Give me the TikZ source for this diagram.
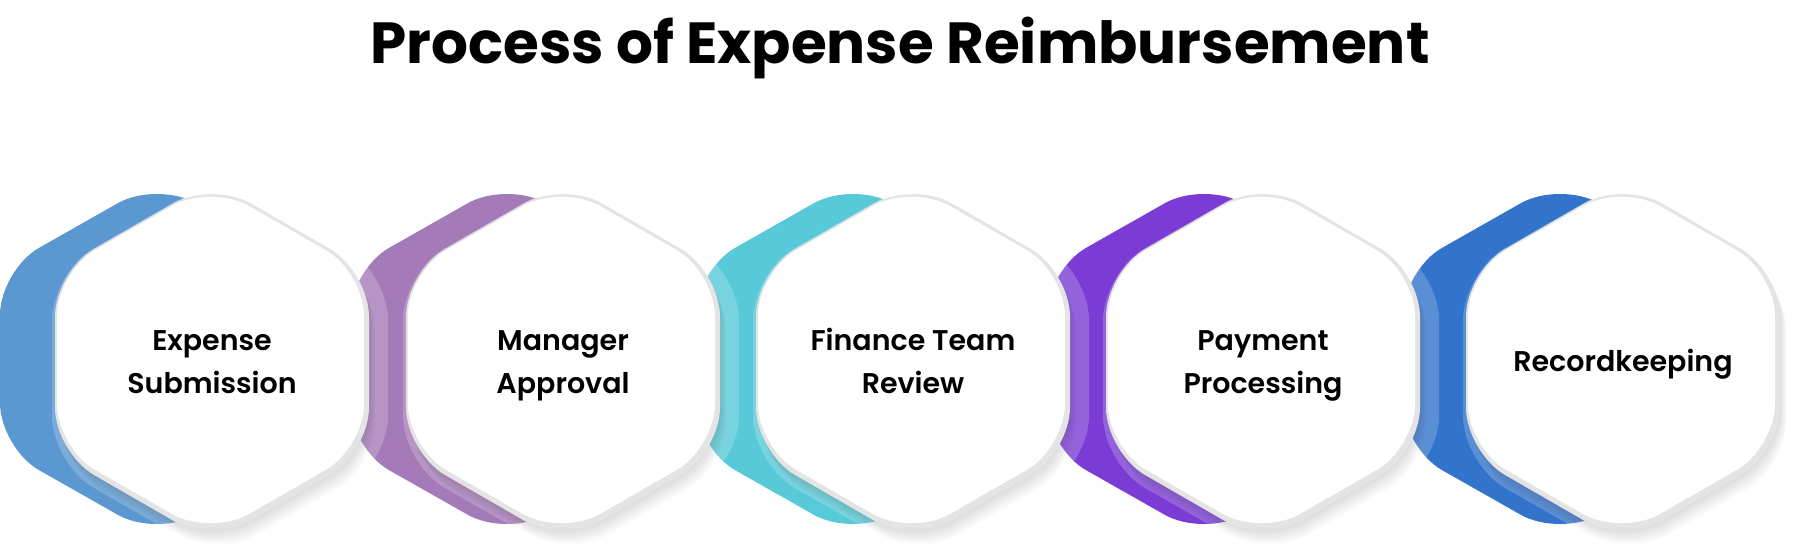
\documentclass[tikz,border=0pt]{standalone}
\usepackage{fontspec}
\setmainfont{Poppins}
\IfFontExistsTF{Poppins SemiBold}{\newfontfamily\lblfont{Poppins SemiBold}}{\newcommand\lblfont{\bfseries}}
\newcommand\lst{\rule[-12.2pt]{0pt}{42.2pt}}
\newcommand\hexat[4]{({#1},{#2-#4}) -- ({#1+#3},{#2-#4/2}) -- ({#1+#3},{#2+#4/2}) -- ({#1},{#2+#4}) -- ({#1-#3},{#2+#4/2}) -- ({#1-#3},{#2-#4/2}) -- cycle}
\definecolor{cA}{HTML}{5B97D0}
\definecolor{cB}{HTML}{A57AB8}
\definecolor{cC}{HTML}{58C9D8}
\definecolor{cD}{HTML}{7A3CD4}
\definecolor{cE}{HTML}{3273CB}
\definecolor{rimgray}{HTML}{E4E4E4}
\tikzset{
  lbl/.style={font=\lblfont\fontsize{28.5}{42}\selectfont, align=center, inner sep=0pt, text=black},
  ttl/.style={font=\bfseries\fontsize{58}{62}\selectfont, inner sep=0pt, text=black, anchor=base},
}
\begin{document}
\begin{tikzpicture}[x=1pt,y=-1pt]
\useasboundingbox (0,0) rectangle (1800,557);
\fill[white] (0,0) rectangle (1800,557);
% coloured back hexagons
\foreach \ccx/\col in {157/cA,507/cB,853/cC,1204/cD,1560/cE}{
  \fill[\col, rounded corners=45pt] \hexat{\ccx}{359}{157}{178};
}
% white front hexagons
\foreach \cx in {212,563,913,1263,1623}{
  \foreach \k in {1,...,8}{
    \fill[black, opacity=0.02, rounded corners=45pt] \hexat{\cx+0.8*\k}{362+1.8*\k}{157}{181};
  }
  \fill[white, opacity=0.2, rounded corners=48pt] \hexat{\cx+8}{368}{168}{192};
  \fill[rimgray, rounded corners=45pt] \hexat{\cx}{362}{157}{181};
  \fill[white, rounded corners=44pt] \hexat{\cx-1.5}{360}{153.5}{176};
}
\coordinate (h1) at (212,363);
\coordinate (h2) at (563,363);
\coordinate (h3) at (913,363);
\coordinate (h4) at (1263,363);
\coordinate (h5) at (1623,363);
\node[lbl] (l1) at (h1) {\lst Expense\\\lst Submission};
\node[lbl] (l2) at (h2) {\lst Manager\\\lst Approval};
\node[lbl] (l3) at (h3) {\lst Finance Team\\\lst Review};
\node[lbl] (l4) at (h4) {\lst Payment\\\lst Processing};
\node[lbl] (l5) at (h5) {\lst Recordkeeping};
\node[ttl] (title) at (900,63) {Process of Expense Reimbursement};
\end{tikzpicture}
\end{document}
